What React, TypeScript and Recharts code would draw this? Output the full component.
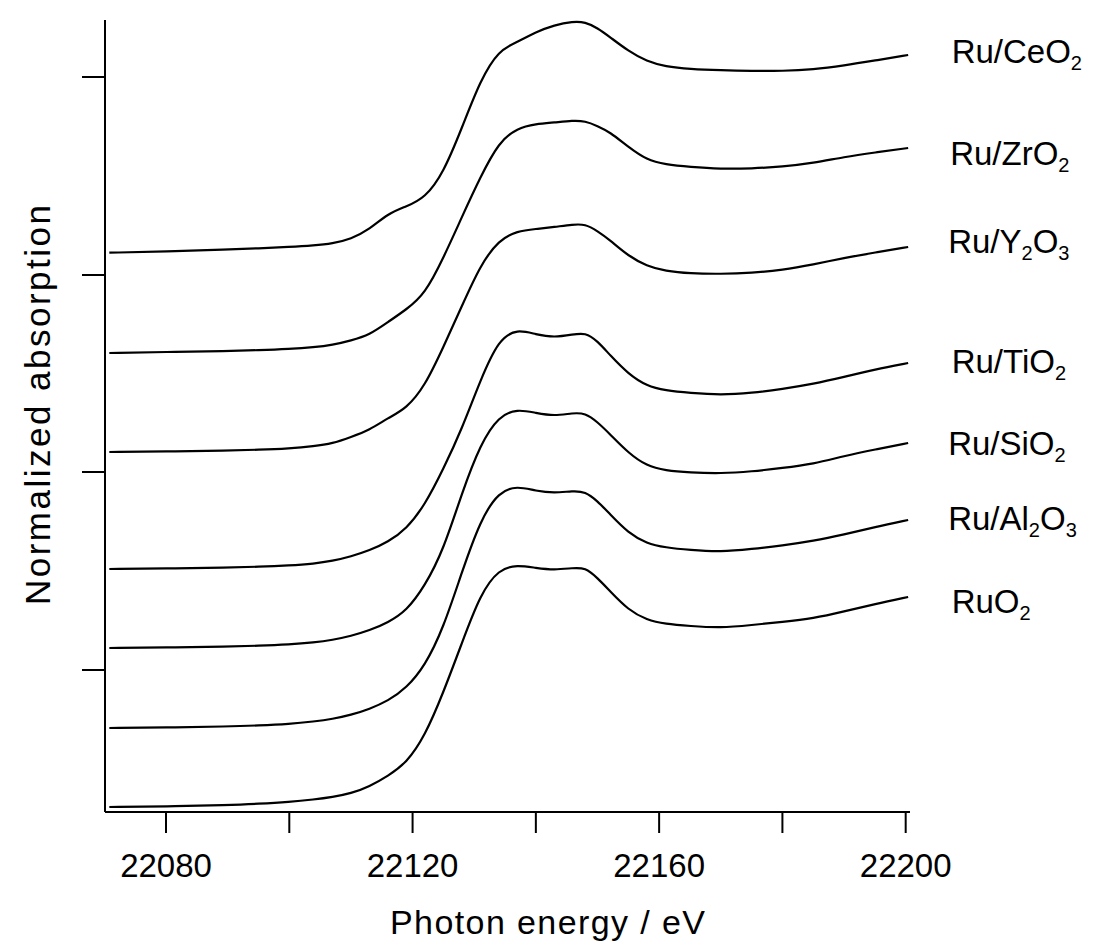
import React from 'react';
import { LineChart, Line, XAxis, YAxis, LabelList, Label } from 'recharts';

// Photon energy grid (eV)
const energy = [22070.8, 22080, 22090, 22095, 22100, 22104, 22107, 22110, 22113, 22116, 22119, 22122, 22125, 22128, 22131, 22134, 22137, 22140, 22143, 22146, 22148, 22150, 22152, 22155, 22158, 22161, 22165, 22170, 22175, 22180, 22185, 22190, 22195, 22200.4];

// Normalized absorption (vertically offset spectra)
const ruCeO2 = [5.593, 5.605, 5.625, 5.637, 5.65, 5.665, 5.685, 5.73, 5.825, 5.985, 6.055, 6.14, 6.39, 6.84, 7.32, 7.62, 7.70, 7.80, 7.87, 7.905, 7.90, 7.84, 7.75, 7.61, 7.505, 7.455, 7.43, 7.417, 7.41, 7.41, 7.425, 7.465, 7.515, 7.57];
const ruZrO2 = [4.59, 4.60, 4.61, 4.618, 4.63, 4.647, 4.67, 4.715, 4.77, 4.90, 5.025, 5.18, 5.54, 5.95, 6.35, 6.70, 6.84, 6.88, 6.895, 6.915, 6.91, 6.86, 6.80, 6.65, 6.52, 6.475, 6.45, 6.43, 6.435, 6.453, 6.49, 6.55, 6.595, 6.64];
const ruY2O3 = [3.60, 3.605, 3.615, 3.622, 3.635, 3.657, 3.685, 3.75, 3.82, 3.94, 4.035, 4.26, 4.65, 5.06, 5.47, 5.72, 5.81, 5.83, 5.85, 5.875, 5.88, 5.81, 5.72, 5.56, 5.46, 5.41, 5.385, 5.38, 5.39, 5.42, 5.475, 5.54, 5.595, 5.65];
const ruTiO2 = [2.43, 2.435, 2.445, 2.452, 2.465, 2.483, 2.51, 2.555, 2.615, 2.70, 2.83, 3.07, 3.43, 3.83, 4.32, 4.73, 4.83, 4.775, 4.745, 4.775, 4.795, 4.71, 4.57, 4.38, 4.26, 4.215, 4.19, 4.17, 4.19, 4.23, 4.28, 4.35, 4.425, 4.49];
const ruSiO2 = [1.64, 1.645, 1.655, 1.662, 1.675, 1.695, 1.72, 1.76, 1.815, 1.895, 2.01, 2.26, 2.62, 3.19, 3.68, 3.96, 4.03, 3.99, 3.96, 3.99, 3.99, 3.90, 3.78, 3.59, 3.46, 3.415, 3.395, 3.385, 3.405, 3.44, 3.48, 3.56, 3.625, 3.69];
const ruAl2O3 = [0.84, 0.845, 0.855, 0.865, 0.88, 0.905, 0.93, 0.97, 1.03, 1.11, 1.24, 1.46, 1.84, 2.40, 2.92, 3.205, 3.26, 3.21, 3.19, 3.21, 3.205, 3.11, 2.98, 2.79, 2.685, 2.645, 2.62, 2.60, 2.63, 2.665, 2.71, 2.775, 2.85, 2.92];
const ruO2 = [0.05, 0.055, 0.07, 0.082, 0.10, 0.125, 0.15, 0.185, 0.255, 0.36, 0.49, 0.76, 1.195, 1.69, 2.18, 2.43, 2.47, 2.44, 2.42, 2.44, 2.445, 2.34, 2.21, 2.02, 1.92, 1.88, 1.86, 1.84, 1.87, 1.90, 1.935, 2.005, 2.08, 2.15];

const seriesKeys = ['ruCeO2', 'ruZrO2', 'ruY2O3', 'ruTiO2', 'ruSiO2', 'ruAl2O3', 'ruO2'];
const seriesValues = [ruCeO2, ruZrO2, ruY2O3, ruTiO2, ruSiO2, ruAl2O3, ruO2];
// label text parts: [text, isSubscript]
const seriesLabels: [string, boolean][][] = [
  [['Ru/CeO', false], ['2', true]],
  [['Ru/ZrO', false], ['2', true]],
  [['Ru/Y', false], ['2', true], ['O', false], ['3', true]],
  [['Ru/TiO', false], ['2', true]],
  [['Ru/SiO', false], ['2', true]],
  [['Ru/Al', false], ['2', true], ['O', false], ['3', true]],
  [['RuO', false], ['2', true]],
];

const xTicks = [22080, 22100, 22120, 22140, 22160, 22180, 22200];
const xTickLabels = [22080, 22120, 22160, 22200];
const yTicks = [1.42, 3.40, 5.37, 7.35];

// label placement offsets (px) relative to each curve's last point
const labelDx = [43.5, 42, 40, 43.5, 40, 40, 43.5];
const labelDy = [7.7, 17, 6, 10.3, 12, 10, 16.3];

const FONT = '"Liberation Sans", Arial, Helvetica, sans-serif';

const data = energy.map((e, i) => {
  const row: Record<string, number> = { energy: e };
  seriesKeys.forEach((k, s) => {
    row[k] = seriesValues[s][i];
  });
  return row;
});

const XTick = (props: any) => {
  const { x, y, payload } = props;
  if (!xTickLabels.includes(payload.value)) return <g />;
  return (
    <text x={x} y={y + 43.7} textAnchor="middle" fontSize={33} fontFamily={FONT} fill="#000">
      {payload.value}
    </text>
  );
};

const YTick = () => <g />;

const makeSeriesLabel = (s: number) => (p: any) => {
  if (p.index !== energy.length - 1) return null;
  const px = p.x ?? p.viewBox?.x;
  const py = p.y ?? p.viewBox?.y;
  if (px == null || py == null) return null;
  let prevSub = false;
  return (
    <text x={px + labelDx[s]} y={py + labelDy[s]} fontSize={33} fontFamily={FONT} fill="#000">
      {seriesLabels[s].map(([t, sub], k) => {
        let dy = 0;
        if (sub && !prevSub) dy = 7;
        if (!sub && prevSub) dy = -7;
        prevSub = sub;
        return (
          <tspan key={k} dy={dy} fontSize={sub ? 20 : 33}>
            {t}
          </tspan>
        );
      })}
    </text>
  );
};

const YTitle = () => (
  <text
    x={50}
    y={405}
    transform="rotate(-90, 50, 405)"
    textAnchor="middle"
    fontSize={35}
    fontFamily={FONT}
    fill="#000"
    textLength={400}
    lengthAdjust="spacing"
  >
    Normalized absorption
  </text>
);

const XTitle = () => (
  <text
    x={547.5}
    y={934}
    textAnchor="middle"
    fontSize={34}
    fontFamily={FONT}
    fill="#000"
    textLength={315}
    lengthAdjust="spacing"
  >
    Photon energy / eV
  </text>
);

export default function App() {
  return (
    <div style={{ position: 'fixed', left: 0, top: 0, width: 1093, height: 943, background: '#fff' }}>
      <LineChart
        width={1093}
        height={943}
        data={data}
        margin={{ top: 20, right: 183, left: 25, bottom: 31 }}
      >
        <XAxis
          type="number"
          dataKey="energy"
          domain={[22070.1, 22200.7]}
          ticks={xTicks}
          tick={<XTick />}
          tickSize={21}
          tickMargin={0}
          height={100}
          axisLine={{ stroke: '#000', strokeWidth: 2 }}
          tickLine={{ stroke: '#000', strokeWidth: 2 }}
          interval={0}
        >
          <Label content={() => <XTitle />} />
        </XAxis>
        <YAxis
          type="number"
          domain={[0, 7.92]}
          ticks={yTicks}
          tick={<YTick />}
          tickSize={23}
          tickMargin={0}
          width={80}
          axisLine={{ stroke: '#000', strokeWidth: 2 }}
          tickLine={{ stroke: '#000', strokeWidth: 2 }}
          interval={0}
        >
          <Label content={() => <YTitle />} />
        </YAxis>
        {seriesKeys.map((k, s) => (
          <Line
            key={k}
            dataKey={k}
            type="basis"
            stroke="#000"
            strokeWidth={2.2}
            dot={false}
            activeDot={false}
            isAnimationActive={false}
          >
            <LabelList dataKey={k} content={makeSeriesLabel(s)} />
          </Line>
        ))}
      </LineChart>
    </div>
  );
}
